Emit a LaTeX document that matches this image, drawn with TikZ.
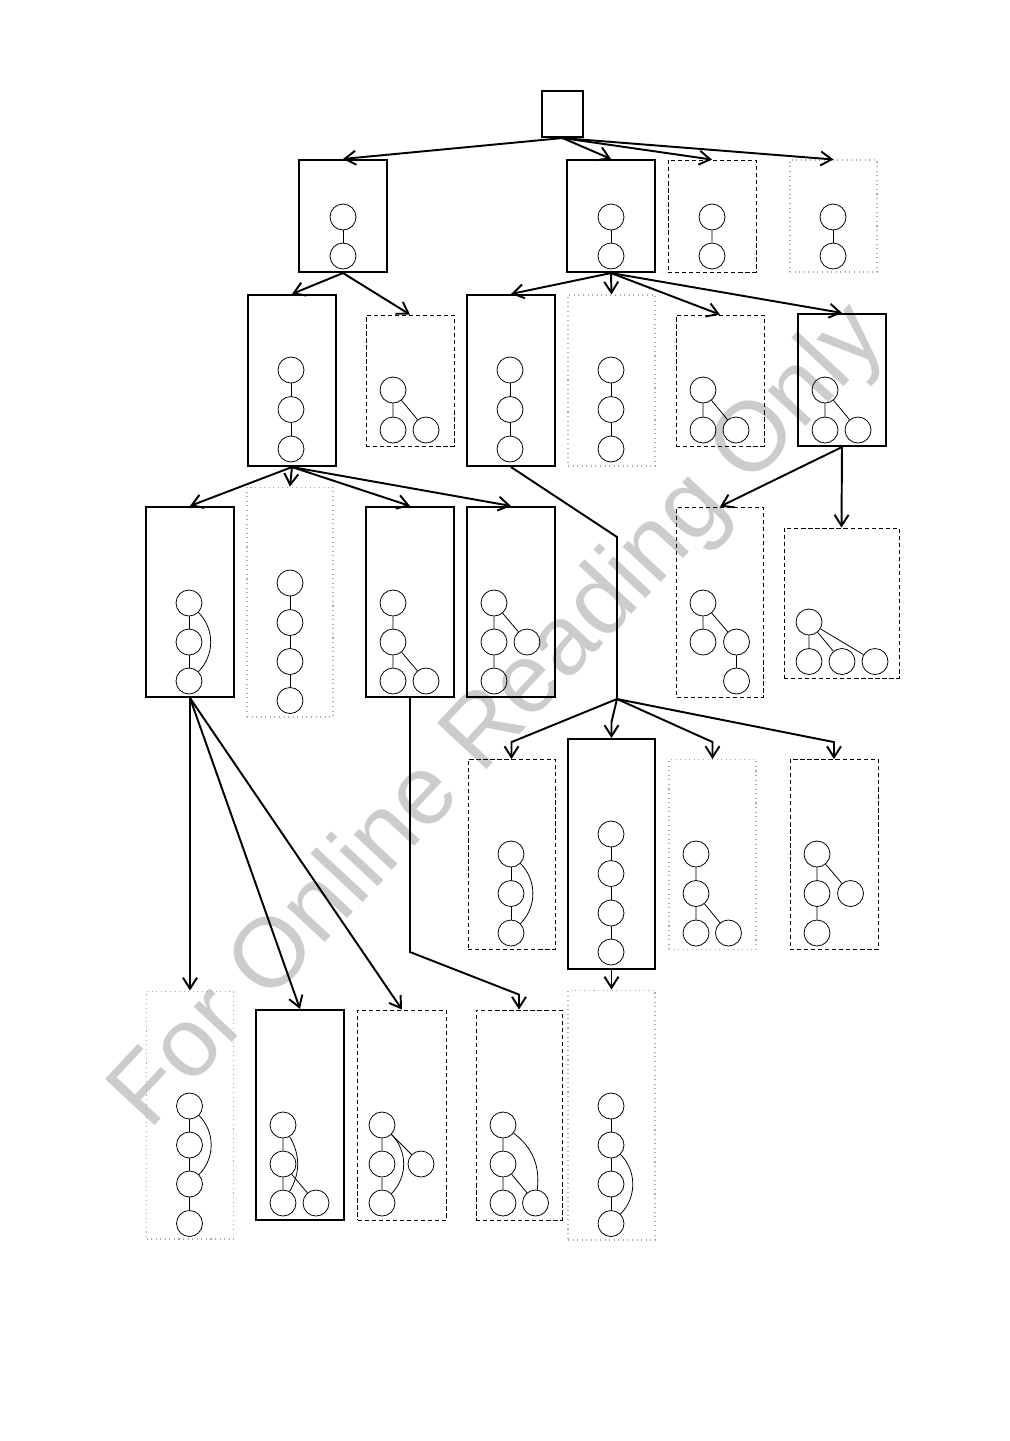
\documentclass[tikz,border=0pt]{standalone}
\usepackage{fontspec}
\setsansfont{Liberation Sans}
\usetikzlibrary{positioning, arrows.meta}
\definecolor{markgray}{HTML}{CCCCCC}

\begin{document}
\begin{tikzpicture}[x=0.02cm, y=0.02cm,
  vtx/.style={draw, circle, minimum size=0.52cm, inner sep=0pt, line width=0.45pt},
  bestbox/.style={draw, line width=1.2pt, minimum width=1.76cm, inner sep=0pt},
  candbox/.style={draw, dash pattern=on 2.4pt off 1.6pt, line width=0.5pt, minimum width=1.76cm, inner sep=0pt},
  prunedbox/.style={draw=gray!65, dotted, line width=0.6pt, minimum width=1.74cm, inner sep=0pt},
  arrow/.style={-{Straight Barb[length=2.2mm, width=2.8mm]}, line width=1.1pt},
  trunk/.style={line width=1.1pt},
  link/.style={line width=0.45pt},
  faintlink/.style={line width=0.7pt, draw=gray!75},
  watermark/.style={font=\sffamily\fontsize{56}{56}\selectfont, text=markgray, rotate=47},
]
\useasboundingbox (0,0) rectangle (1009,-1441);

% ---- watermark ----
\node[watermark] (mark) at (500,-718) {For Online Reading Only};

% ---- root ----
\node[bestbox, minimum width=0.82cm, minimum height=0.92cm] (root) at (562.5,-114) {};

% ---- level 1 ----
\node[bestbox, minimum height=2.24cm] (n1) at (343,-216) {};
\node[vtx] (n1a) at (343,-217) {};
\node[vtx] (n1b) at (343,-256) {};
\draw[link] (n1a) -- (n1b);

\node[bestbox, minimum height=2.24cm] (n2) at (611,-216) {};
\node[vtx] (n2a) at (611,-217) {};
\node[vtx] (n2b) at (611,-256) {};
\draw[link] (n2a) -- (n2b);

\node[candbox, minimum height=2.24cm] (n3) at (712,-216) {};
\node[vtx] (n3a) at (712,-217) {};
\node[vtx] (n3b) at (712,-256) {};
\draw[faintlink] (n3a) -- (n3b);

\node[prunedbox, minimum height=2.24cm] (n4) at (833.5,-216) {};
\node[vtx] (n4a) at (833,-217) {};
\node[vtx] (n4b) at (833,-256) {};
\draw[link] (n4a) -- (n4b);

\draw[arrow] (root.south) -- (n1.north);
\draw[arrow] (root.south) -- (n2.north);
\draw[arrow] (root.south) -- (n3.north);
\draw[arrow] (root.south) -- (n4.north);

% ---- level 2 ----
\node[bestbox, minimum height=3.42cm] (n11) at (292,-380.5) {};
\node[vtx] (n11a) at (291,-370) {};
\node[vtx] (n11b) at (291,-409.5) {};
\node[vtx] (n11c) at (291,-449) {};
\draw[link] (n11a) -- (n11b) (n11b) -- (n11c);

\node[candbox, minimum height=2.62cm] (n12) at (410,-380.5) {};
\node[vtx] (n12a) at (393,-390) {};
\node[vtx] (n12b) at (393,-430) {};
\node[vtx] (n12c) at (426,-430) {};
\draw[link] (n12a) -- (n12b) (n12a) -- (n12c);

\node[bestbox, minimum height=3.42cm] (n21) at (511,-380.5) {};
\node[vtx] (n21a) at (510,-370) {};
\node[vtx] (n21b) at (510,-409.5) {};
\node[vtx] (n21c) at (510,-449) {};
\draw[link] (n21a) -- (n21b) (n21b) -- (n21c);

\node[prunedbox, minimum height=3.42cm] (n22) at (611.5,-380.5) {};
\node[vtx] (n22a) at (611,-370) {};
\node[vtx] (n22b) at (611,-409.5) {};
\node[vtx] (n22c) at (611,-449) {};
\draw[link] (n22a) -- (n22b) (n22b) -- (n22c);

\node[candbox, minimum height=2.62cm] (n23) at (720,-380.5) {};
\node[vtx] (n23a) at (703,-390) {};
\node[vtx] (n23b) at (703,-430) {};
\node[vtx] (n23c) at (736,-430) {};
\draw[link] (n23a) -- (n23b) (n23a) -- (n23c);

\node[bestbox, minimum height=2.64cm] (n24) at (842,-380) {};
\node[vtx] (n24a) at (825,-390) {};
\node[vtx] (n24b) at (825,-430) {};
\node[vtx] (n24c) at (858,-430) {};
\draw[link] (n24a) -- (n24b) (n24a) -- (n24c);

\draw[arrow] (n1.south) -- (n11.north);
\draw[arrow] (n1.south) -- (n12.north);
\draw[arrow] (n2.south) -- (n21.north);
\draw[arrow] (n2.south) -- (n22.north);
\draw[arrow] (n2.south) -- (n23.north);
\draw[arrow] (n2.south) -- (n24.north);

% ---- level 3 ----
\node[bestbox, minimum height=3.8cm] (n111) at (190,-602) {};
\node[vtx] (n111a) at (189,-603) {};
\node[vtx] (n111b) at (189,-642) {};
\node[vtx] (n111c) at (189,-681) {};
\draw[link] (n111a) -- (n111b) (n111b) -- (n111c);
\draw[link] (n111a) to[bend left=45] (n111c);

\node[prunedbox, minimum width=1.72cm, minimum height=4.6cm] (n112) at (290,-602) {};
\node[vtx] (n112a) at (290,-583) {};
\node[vtx] (n112b) at (290,-622.5) {};
\node[vtx] (n112c) at (290,-661.5) {};
\node[vtx] (n112d) at (290,-700.5) {};
\draw[link] (n112a) -- (n112b) (n112b) -- (n112c) (n112c) -- (n112d);

\node[bestbox, minimum height=3.8cm] (n113) at (410,-602) {};
\node[vtx] (n113a) at (393,-603) {};
\node[vtx] (n113b) at (393,-642) {};
\node[vtx] (n113c) at (393,-681) {};
\node[vtx] (n113d) at (426,-681) {};
\draw[link] (n113a) -- (n113b) (n113b) -- (n113c) (n113b) -- (n113d);

\node[bestbox, minimum height=3.8cm] (n114) at (511,-602) {};
\node[vtx] (n114a) at (494,-603) {};
\node[vtx] (n114b) at (494,-642) {};
\node[vtx] (n114c) at (527,-642) {};
\node[vtx] (n114d) at (494,-681) {};
\draw[link] (n114a) -- (n114b) (n114a) -- (n114c) (n114b) -- (n114d);

\node[candbox, minimum width=1.74cm, minimum height=3.8cm] (n241) at (720,-602) {};
\node[vtx] (n241a) at (703,-603) {};
\node[vtx] (n241b) at (703,-642) {};
\node[vtx] (n241c) at (736.5,-642) {};
\node[vtx] (n241d) at (736.5,-681) {};
\draw[link] (n241a) -- (n241b) (n241a) -- (n241c) (n241c) -- (n241d);

\node[candbox, minimum width=2.3cm, minimum height=3.0cm] (n242) at (841.5,-603) {};
\node[vtx] (n242a) at (809,-622) {};
\node[vtx] (n242b) at (809,-661.5) {};
\node[vtx] (n242c) at (842,-661.5) {};
\node[vtx] (n242d) at (875,-661.5) {};
\draw[link] (n242a) -- (n242b) (n242a) -- (n242c) (n242a) -- (n242d);

\draw[arrow] (n11.south) -- (n111.north);
\draw[arrow] (n11.south) -- (n112.north);
\draw[arrow] (n11.south) -- (n113.north);
\draw[arrow] (n11.south) -- (n114.north);
\draw[arrow] (n24.south) -- (n241.north);
\draw[arrow] (n24.south) -- (n242.north);

% ---- level 4: children of n21 ----
\node[candbox, minimum width=1.74cm, minimum height=3.8cm] (n211) at (511.5,-854.5) {};
\node[vtx] (n211a) at (511,-854) {};
\node[vtx] (n211b) at (511,-893.5) {};
\node[vtx] (n211c) at (511,-933) {};
\draw[link] (n211a) -- (n211b) (n211b) -- (n211c);
\draw[link] (n211a) to[bend left=45] (n211c);

\node[bestbox, minimum width=1.74cm, minimum height=4.6cm] (n212) at (611.5,-854) {};
\node[vtx] (n212a) at (611,-834) {};
\node[vtx] (n212b) at (611,-873.5) {};
\node[vtx] (n212c) at (611,-913) {};
\node[vtx] (n212d) at (611,-952) {};
\draw[link] (n212a) -- (n212b) (n212b) -- (n212c) (n212c) -- (n212d);

\node[prunedbox, minimum height=3.8cm] (n213) at (712.5,-854.5) {};
\node[vtx] (n213a) at (696,-854) {};
\node[vtx] (n213b) at (696,-893.5) {};
\node[vtx] (n213c) at (696,-933) {};
\node[vtx] (n213d) at (728.5,-933) {};
\draw[link] (n213a) -- (n213b) (n213b) -- (n213c) (n213b) -- (n213d);

\node[candbox, minimum height=3.8cm] (n214) at (834,-854.5) {};
\node[vtx] (n214a) at (817,-854) {};
\node[vtx] (n214b) at (817,-893.5) {};
\node[vtx] (n214c) at (850.5,-893.5) {};
\node[vtx] (n214d) at (817,-933) {};
\draw[link] (n214a) -- (n214b) (n214a) -- (n214c) (n214b) -- (n214d);

\coordinate (kneeB) at (617,-537);
\coordinate (hubB) at (617,-699);
\draw[trunk] (n21.south) -- (kneeB) -- (hubB);
\draw[arrow] (hubB) -- ([yshift=0.34cm]n211.north) -- (n211.north);
\draw[arrow] (hubB) -- ([yshift=0.32cm]n212.north) -- (n212.north);
\draw[arrow] (hubB) -- ([yshift=0.34cm]n213.north) -- (n213.north);
\draw[arrow] (hubB) -- ([yshift=0.34cm]n214.north) -- (n214.north);

% ---- level 5 ----
\node[prunedbox, minimum height=4.96cm] (n1111) at (190,-1115) {};
\node[vtx] (n1111a) at (189.5,-1106) {};
\node[vtx] (n1111b) at (189.5,-1145) {};
\node[vtx] (n1111c) at (189.5,-1184) {};
\node[vtx] (n1111d) at (189.5,-1223.5) {};
\draw[link] (n1111a) -- (n1111b) (n1111b) -- (n1111c) (n1111c) -- (n1111d);
\draw[link] (n1111a) to[bend left=45] (n1111c);

\node[bestbox, minimum height=4.2cm] (n1112) at (300,-1115) {};
\node[vtx] (n1112a) at (283,-1125) {};
\node[vtx] (n1112b) at (283,-1164) {};
\node[vtx] (n1112c) at (283,-1203) {};
\node[vtx] (n1112d) at (316,-1203) {};
\draw[link] (n1112a) -- (n1112b) (n1112b) -- (n1112c) (n1112b) -- (n1112d);
\draw[link] (n1112a) to[bend left=30] (n1112c);

\node[candbox, minimum width=1.78cm, minimum height=4.2cm] (n1113) at (402,-1115) {};
\node[vtx] (n1113a) at (382,-1125) {};
\node[vtx] (n1113b) at (382,-1164) {};
\node[vtx] (n1113c) at (421,-1164) {};
\node[vtx] (n1113d) at (382,-1203) {};
\draw[link] (n1113a) -- (n1113b) (n1113a) -- (n1113c);
\draw[faintlink] (n1113b) -- (n1113d);
\draw[link] (n1113a) to[bend left=45] (n1113d);

\node[candbox, minimum width=1.72cm, minimum height=4.2cm] (n1131) at (519,-1115) {};
\node[vtx] (n1131a) at (503,-1125) {};
\node[vtx] (n1131b) at (503,-1164) {};
\node[vtx] (n1131c) at (503,-1203) {};
\node[vtx] (n1131d) at (535.5,-1203) {};
\draw[link] (n1131a) -- (n1131b) (n1131b) -- (n1131c) (n1131b) -- (n1131d);
\draw[link] (n1131a) to[bend left=30] (n1131d);

\node[prunedbox, minimum height=5.0cm] (n2121) at (611.5,-1115) {};
\node[vtx] (n2121a) at (611,-1106) {};
\node[vtx] (n2121b) at (611,-1145) {};
\node[vtx] (n2121c) at (611,-1184) {};
\node[vtx] (n2121d) at (611,-1223.5) {};
\draw[link] (n2121a) -- (n2121b) (n2121b) -- (n2121c) (n2121c) -- (n2121d);
\draw[link] (n2121b) to[bend left=45] (n2121d);

\draw[arrow] (n111.south) -- (n1111.north);
\draw[arrow] (n111.south) -- (n1112.north);
\draw[arrow] (n111.south) -- (n1113.north);
\coordinate (kneeC) at (410,-952);
\draw[arrow] (n113.south) -- (kneeC) -- ([yshift=0.3cm]n1131.north) -- (n1131.north);
\draw[arrow] (n212.south) -- (n2121.north);

\end{tikzpicture}
\end{document}
